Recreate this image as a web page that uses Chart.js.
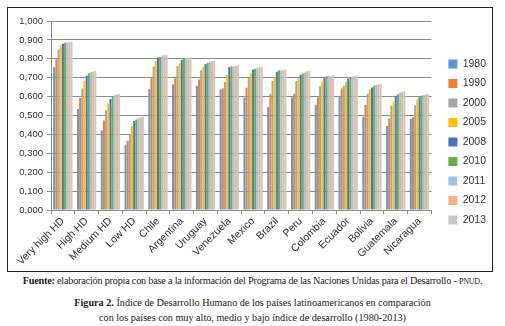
<!DOCTYPE html>
<html>
<head>
<meta charset="utf-8">
<script src="https://cdn.jsdelivr.net/npm/chart.js@4/dist/chart.umd.min.js"></script>
<style>
    body { margin: 0; background: #fff; width: 505px; height: 326px; overflow: hidden; position: relative; }
    #box { position: absolute; left: 7px; top: 7px; width: 484px; height: 263px; border: 1px solid #222; }
    #box canvas { display: block; }
    .note { position: absolute; left: 0; width: 505px; text-align: center; font-family: "Liberation Serif", "DejaVu Serif", serif; color: #222; white-space: nowrap; }
    #fuente { top: 275px; font-size: 10.2px; letter-spacing: -0.2px; }
    #figura { top: 296px; font-size: 10.2px; line-height: 14.5px; }
    .sc { font-size: 8px; }
</style>
</head>
<body>
<div id="box"><canvas id="hdiChart" width="484" height="263"></canvas></div>
<div class="note" id="fuente"><b>Fuente:</b> elaboración propia con base a la información del Programa de las Naciones Unidas para el Desarrollo - <span class="sc">PNUD</span>.</div>
<div class="note" id="figura"><b>Figura 2.</b> Índice de Desarrollo Humano de los países latinoamericanos en comparación<br>con los países con muy alto, medio y bajo índice de desarrollo (1980-2013)</div>

<script>
// Categorias (eje X)
const categories = ['Very high HD', 'High HD', 'Medium HD', 'Low HD', 'Chile', 'Argentina', 'Uruguay',
    'Venezuela', 'Mexico', 'Brazil', 'Peru', 'Colombia', 'Ecuador', 'Bolivia', 'Guatemala', 'Nicaragua'];

// Años (series)
const years = ['1980', '1990', '2000', '2005', '2008', '2010', '2011', '2012', '2013'];
const colors = ['#5b9bd5', '#ed7d31', '#a5a5a5', '#ffc000', '#4472c4', '#70ad47', '#9dc3e6', '#f4b183', '#c9c9c9'];

// Valores IDH por año, en el orden de las categorias
const v1980 = [0.757, 0.534, 0.420, 0.345, 0.640, 0.665, 0.658, 0.639, 0.595, 0.545, 0.595, 0.557, 0.605, 0.494, 0.445, 0.483];
const v1990 = [0.798, 0.593, 0.474, 0.367, 0.704, 0.705, 0.691, 0.644, 0.647, 0.612, 0.615, 0.596, 0.643, 0.556, 0.483, 0.491];
const v2000 = [0.849, 0.643, 0.528, 0.403, 0.759, 0.762, 0.740, 0.677, 0.699, 0.682, 0.682, 0.655, 0.658, 0.615, 0.551, 0.554];
const v2005 = [0.870, 0.682, 0.565, 0.444, 0.789, 0.777, 0.755, 0.716, 0.724, 0.705, 0.696, 0.680, 0.678, 0.637, 0.574, 0.585];
const v2008 = [0.879, 0.710, 0.587, 0.471, 0.807, 0.794, 0.772, 0.757, 0.744, 0.731, 0.716, 0.700, 0.695, 0.648, 0.603, 0.597];
const v2010 = [0.885, 0.723, 0.601, 0.479, 0.810, 0.799, 0.779, 0.759, 0.748, 0.739, 0.722, 0.706, 0.701, 0.658, 0.613, 0.604];
const v2011 = [0.887, 0.729, 0.609, 0.486, 0.817, 0.804, 0.783, 0.761, 0.752, 0.740, 0.727, 0.710, 0.705, 0.662, 0.620, 0.608];
const v2012 = [0.888, 0.733, 0.612, 0.490, 0.819, 0.806, 0.787, 0.763, 0.755, 0.742, 0.734, 0.708, 0.708, 0.664, 0.626, 0.611];
const v2013 = [0.890, 0.735, 0.614, 0.493, 0.822, 0.808, 0.790, 0.764, 0.756, 0.744, 0.737, 0.711, 0.711, 0.667, 0.628, 0.614];
const values = [v1980, v1990, v2000, v2005, v2008, v2010, v2011, v2012, v2013];

// Eje Y
const yMin = 0;
const yMax = 1;
const yStep = 0.1;

const axisFont = { family: 'Liberation Sans, Arial, sans-serif', size: 9.5 };
const gridColor = '#8c8c8c';

// mover la leyenda un poco (arriba / derecha) como en el original
const legendShift = {
    id: 'legendShift',
    afterLayout(chart) {
        const lg = chart.legend;
        lg.top -= 4; lg.bottom -= 4;
        lg.left += 8; lg.right += 8;
    }
};

new Chart(document.getElementById('hdiChart'), {
    type: 'bar',
    data: {
        labels: categories,
        datasets: years.map((y, i) => ({
            label: y,
            data: values[i],
            backgroundColor: colors[i],
            barPercentage: 0.92,
            categoryPercentage: 0.82
        }))
    },
    options: {
        responsive: false,
        animation: false,
        layout: { padding: { left: 6, top: 13, right: 4, bottom: 0 } },
        scales: {
            x: {
                ticks: { color: '#333', font: { family: axisFont.family, size: 10.5 }, minRotation: 45, maxRotation: 45, padding: 1 },
                grid: { display: true, drawOnChartArea: false, drawTicks: true, tickLength: 4, color: gridColor },
                border: { color: gridColor },
                afterFit: s => { s.height = 61; }
            },
            y: {
                min: yMin,
                max: yMax,
                ticks: {
                    stepSize: yStep,
                    color: '#333',
                    font: axisFont,
                    padding: 4,
                    callback: v => v.toFixed(3).replace('.', ',')
                },
                grid: { color: gridColor, drawTicks: true, tickLength: 4 },
                border: { color: gridColor },
                afterFit: s => { s.width = 37; }
            }
        },
        plugins: {
            legend: {
                position: 'right',
                labels: {
                    boxWidth: 9,
                    boxHeight: 9,
                    padding: 9,
                    color: '#333',
                    font: { family: 'Liberation Sans, Arial, sans-serif', size: 10.5 }
                }
            },
            tooltip: { enabled: false }
        }
    },
    plugins: [legendShift]
});
</script>
</body>
</html>
